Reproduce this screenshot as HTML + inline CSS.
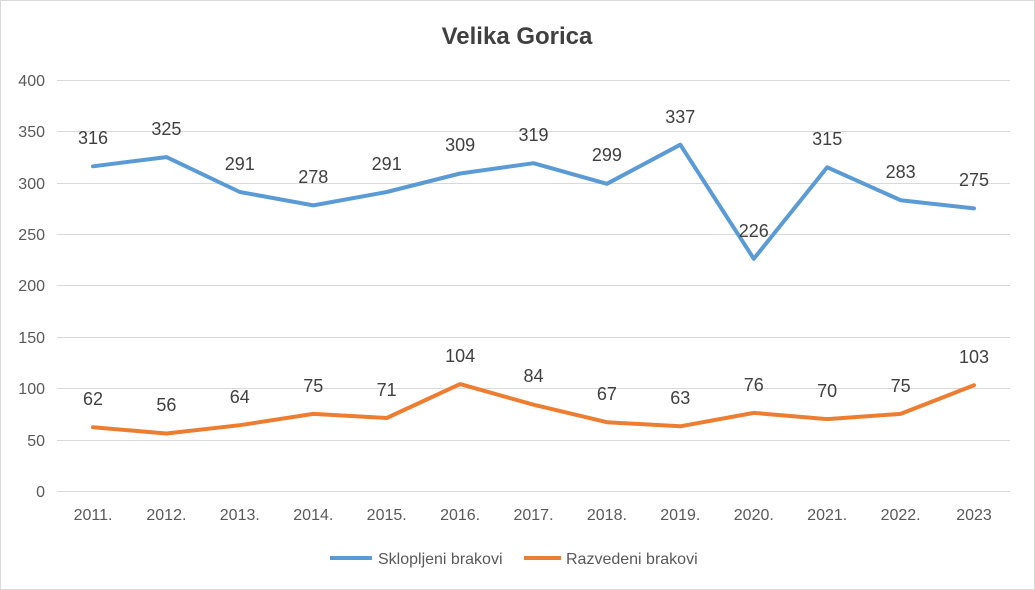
<!DOCTYPE html>
<html><head><meta charset="utf-8"><style>
html,body{margin:0;padding:0;background:#fff;}
svg{display:block;font-family:"Liberation Sans",Calibri,sans-serif;}
</style></head><body>
<svg width="1035" height="590" viewBox="0 0 1035 590" xmlns="http://www.w3.org/2000/svg">
<rect x="0.5" y="0.5" width="1034" height="589" fill="#fff" stroke="#d9d9d9"/>
<text x="517" y="44" text-anchor="middle" font-size="24" font-weight="bold" fill="#404040">Velika Gorica</text>
<g stroke="#d9d9d9" stroke-width="1">
<line x1="57" x2="1010" y1="80.5" y2="80.5"/>
<line x1="57" x2="1010" y1="131.5" y2="131.5"/>
<line x1="57" x2="1010" y1="183.5" y2="183.5"/>
<line x1="57" x2="1010" y1="234.5" y2="234.5"/>
<line x1="57" x2="1010" y1="285.5" y2="285.5"/>
<line x1="57" x2="1010" y1="337.5" y2="337.5"/>
<line x1="57" x2="1010" y1="388.5" y2="388.5"/>
<line x1="57" x2="1010" y1="440.5" y2="440.5"/>
<line x1="57" x2="1010" y1="491.5" y2="491.5"/>
</g>
<g font-size="16" fill="#595959" text-anchor="end">
<text x="45" y="86">400</text><text x="45" y="137">350</text><text x="45" y="189">300</text>
<text x="45" y="240">250</text><text x="45" y="291">200</text><text x="45" y="343">150</text>
<text x="45" y="394">100</text><text x="45" y="446">50</text><text x="45" y="497">0</text>
</g>
<g font-size="16" fill="#595959" text-anchor="middle">
<text x="93" y="520">2011.</text><text x="166.4" y="520">2012.</text><text x="239.8" y="520">2013.</text>
<text x="313.3" y="520">2014.</text><text x="386.7" y="520">2015.</text><text x="460.1" y="520">2016.</text>
<text x="533.5" y="520">2017.</text><text x="606.9" y="520">2018.</text><text x="680.3" y="520">2019.</text>
<text x="753.8" y="520">2020.</text><text x="827.2" y="520">2021.</text><text x="900.6" y="520">2022.</text>
<text x="974" y="520">2023</text>
</g>
<polyline fill="none" stroke="#5b9bd5" stroke-width="4" stroke-linejoin="round" stroke-linecap="round"
points="93,166.3 166.4,157.1 239.8,192 313.3,205.4 386.7,192 460.1,173.5 533.5,163.2 606.9,183.8 680.3,144.7 753.8,258.8 827.2,167.3 900.6,200.2 974,208.4"/>
<polyline fill="none" stroke="#ed7d31" stroke-width="4" stroke-linejoin="round" stroke-linecap="round"
points="93,427.3 166.4,433.5 239.8,425.2 313.3,413.9 386.7,418 460.1,384.1 533.5,404.7 606.9,422.2 680.3,426.3 753.8,412.9 827.2,419.1 900.6,413.9 974,385.2"/>
<g font-size="18" fill="#404040" text-anchor="middle">
<text x="93" y="144">316</text><text x="166.4" y="135">325</text><text x="239.8" y="170">291</text>
<text x="313.3" y="183">278</text><text x="386.7" y="170">291</text><text x="460.1" y="151">309</text>
<text x="533.5" y="141">319</text><text x="606.9" y="161">299</text><text x="680.3" y="123">337</text>
<text x="753.8" y="237">226</text><text x="827.2" y="145">315</text><text x="900.6" y="178">283</text>
<text x="974" y="186">275</text>
<text x="93" y="405">62</text><text x="166.4" y="411">56</text><text x="239.8" y="403">64</text>
<text x="313.3" y="392">75</text><text x="386.7" y="396">71</text><text x="460.1" y="362">104</text>
<text x="533.5" y="382">84</text><text x="606.9" y="400">67</text><text x="680.3" y="404">63</text>
<text x="753.8" y="391">76</text><text x="827.2" y="397">70</text><text x="900.6" y="392">75</text>
<text x="974" y="363">103</text>
</g>
<line x1="330" x2="372" y1="558" y2="558" stroke="#5b9bd5" stroke-width="4"/>
<text x="378" y="564" font-size="16" fill="#595959">Sklopljeni brakovi</text>
<line x1="524" x2="561" y1="558" y2="558" stroke="#ed7d31" stroke-width="4"/>
<text x="566" y="564" font-size="16" fill="#595959">Razvedeni brakovi</text>
</svg>
</body></html>
